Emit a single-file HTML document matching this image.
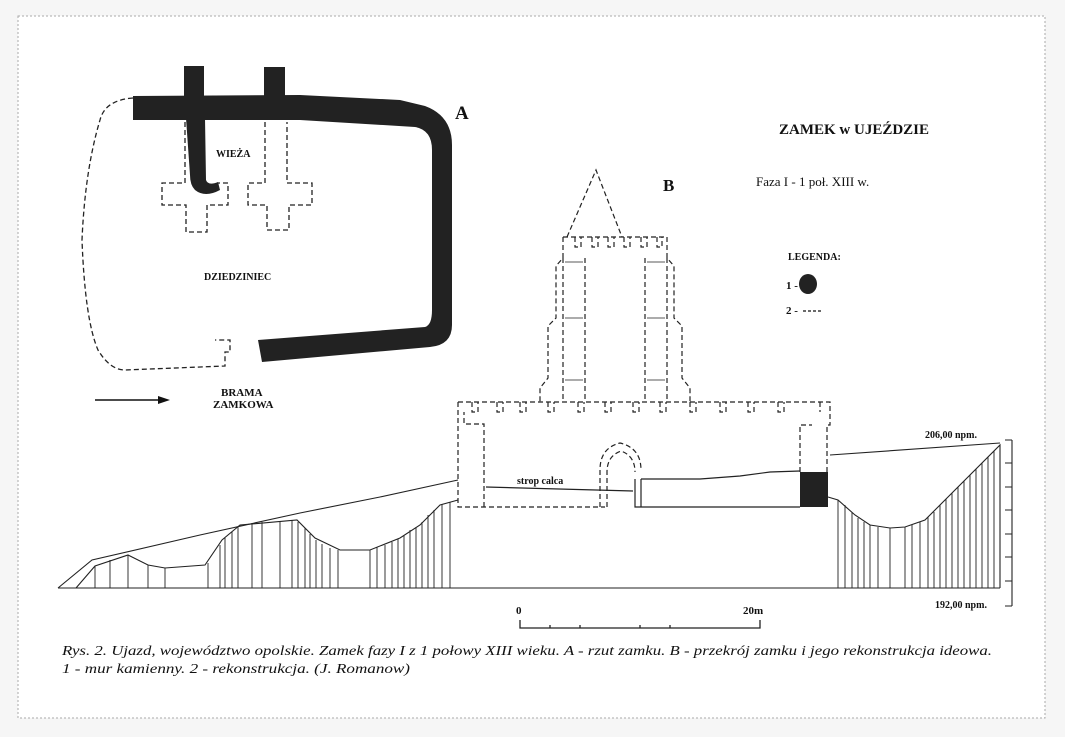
<!DOCTYPE html>
<html><head><meta charset="utf-8"><style>
html,body{margin:0;padding:0;background:#f6f6f6;}
svg{display:block}
text{font-family:"Liberation Serif",serif;fill:#111}
</style></head><body>
<svg width="1065" height="737" viewBox="0 0 1065 737" xmlns="http://www.w3.org/2000/svg">
<rect x="18" y="16" width="1027" height="702" fill="#fff" stroke="#aaa" stroke-width="1" stroke-dasharray="2,2"/>
<!-- PLAN A -->
<g fill="#222">
<path d="M133,96 L300,95 L400,100 L425,106 Q452,116 452,145 L452,325 Q452,345 430,347 L262,362 L258,340 L425,327 Q432,325 432,310 L432,150 Q432,130 415,127 L300,120 L133,120 Z"/>
<rect x="184" y="66" width="20" height="32"/>
<rect x="264" y="67" width="21" height="32"/>
<path d="M186,118 L205,118 L206,180 Q208,186 218,182 L220,190 Q205,198 195,190 Q190,185 190,175 Z"/>
</g>
<g fill="none" stroke="#222" stroke-width="1.3" stroke-dasharray="5,3">
<path d="M133,98 Q105,100 100,120 Q85,170 82,240 Q85,320 98,350 Q110,370 125,370 L225,366 L225,352 L230,352 L230,340 L215,340"/>
<path d="M185,122 L185,183 L162,183 L162,205 L186,205 L186,232 L207,232 L207,205 L228,205 L228,183 L218,183"/>
<path d="M265,122 L265,183 L248,183 L248,205 L267,205 L267,230 L289,230 L289,205 L312,205 L312,183 L287,183 L287,122"/>
</g>
<text x="455" y="119" font-size="19" font-weight="bold">A</text>
<text x="216" y="157" font-size="10" font-weight="bold">WIEŻA</text>
<text x="204" y="280" font-size="10" font-weight="bold">DZIEDZINIEC</text>
<text x="221" y="396" font-size="11" font-weight="bold">BRAMA</text>
<text x="213" y="408" font-size="11" font-weight="bold">ZAMKOWA</text>
<line x1="95" y1="400" x2="163" y2="400" stroke="#111" stroke-width="1.5"/>
<path d="M170,400 L158,396 L158,404 Z" fill="#111"/>
<!-- Titles -->
<text x="779" y="134" font-size="15" font-weight="bold">ZAMEK w UJEŹDZIE</text>
<text x="756" y="186" font-size="13">Faza I -  1 poł. XIII w.</text>
<text x="663" y="191" font-size="17" font-weight="bold">B</text>
<text x="788" y="260" font-size="10" font-weight="bold">LEGENDA:</text>
<text x="786" y="289" font-size="11" font-weight="bold">1 -</text>
<ellipse cx="808" cy="284" rx="9" ry="10" fill="#222"/>
<text x="786" y="314" font-size="11" font-weight="bold">2 -</text>
<line x1="803" y1="311" x2="823" y2="311" stroke="#111" stroke-width="1.2" stroke-dasharray="3,2"/>
<!-- Tower -->
<g fill="none" stroke="#222" stroke-width="1.2" stroke-dasharray="5,3">
<path d="M567,237 L596,170 L622,237"/>
<path d="M563,237 L667,237 L667,258 L674,266 L674,318 L682,326 L682,378 L690,388 L690,402"/>
<path d="M563,237 L563,258 L556,266 L556,318 L548,326 L548,378 L540,388 L540,402"/>
<path d="M563,258 L563,402 M585,258 L585,402 M645,258 L645,402 M667,258 L667,402"/>
<path d="M575,237 v10 h6 v-10 M592,237 v10 h6 v-10 M608,237 v10 h6 v-10 M624,237 v10 h6 v-10 M641,237 v10 h6 v-10 M657,237 v10 h5 v-10"/>
<!-- main wall -->
<path d="M458,402 L830,402 L830,425 L827,425 L827,472 M800,472 L800,425 L812,425"/>
<path d="M458,402 L458,507 L605,507 M484,507 L484,424 L464,424 L464,412"/>
<path d="M472,402 v10 h6 v-10 M497,402 v10 h6 v-10 M520,402 v10 h6 v-10 M548,402 v10 h6 v-10 M578,402 v10 h6 v-10 M605,402 v10 h6 v-10 M633,402 v10 h6 v-10 M660,402 v10 h6 v-10 M690,402 v10 h6 v-10 M720,402 v10 h6 v-10 M748,402 v10 h6 v-10 M778,402 v10 h6 v-10 M820,402 v10"/>
<path d="M600,507 L600,470 Q600,448 620,443 Q641,448 641,470"/>
<path d="M607,507 L607,472 Q607,456 621,451 Q635,456 635,472"/>
</g>
<g fill="none" stroke="#222" stroke-width="1.2">
<path d="M486,487 L633,491"/>
<path d="M641,479 L700,479 L740,476 L770,472 L800,471"/>
<path d="M635,479 L635,507 L800,507 M641,479 L641,507"/>
<rect x="612" y="268" width="0" height="0"/>
</g>
<rect x="800" y="472" width="28" height="35" fill="#222"/>
<g stroke="#222" stroke-width="0.8">
<path d="M565,262h18 M565,318h18 M565,380h18 M647,262h18 M647,318h18 M647,380h18"/>
</g>
<text x="517" y="484" font-size="10" font-weight="bold">strop calca</text>
<!-- Terrain -->
<g fill="none" stroke="#222" stroke-width="1.1">
<line x1="58" y1="588" x2="1000" y2="588"/>
<path d="M58,588 L92,560 L200,535 L300,513 L380,497 L458,480"/>
<path d="M76,588 L95,566 L128,555 L148,565 L165,568 L205,565 L222,540 L240,525 L297,520 L315,538 L340,550 L370,550 L400,538 L420,525 L440,505 L458,500"/>
<path d="M830,455 L1000,443"/>
<path d="M828,497 L838,500 L855,515 L870,525 L890,528 L905,527 L925,520 L945,500 L1000,445 L1000,588"/>
<path d="M1012,440 L1012,606 M1005,440 h7 M1005,463 h7 M1005,487 h7 M1005,510 h7 M1005,534 h7 M1005,557 h7 M1005,581 h7 M1005,606 h7"/>
</g>
<g stroke="#222" stroke-width="0.9">
<path d="M95,566V588 M110,560V588 M128,555V588 M148,565V588 M165,568V588 M208,563V588 M220,545V588 M225,538V588 M232,532V588 M238,527V588 M252,523V588 M262,522V588 M280,521V588 M292,520V588 M298,522V588 M305,528V588 M310,534V588 M316,540V588 M322,544V588 M330,548V588 M338,550V588 M370,550V588 M377,547V588 M385,545V588 M392,542V588 M398,539V588 M404,535V588 M410,530V588 M416,527V588 M422,522V588 M428,515V588 M434,510V588 M442,504V588 M450,502V588"/>
<path d="M838,500V588 M845,505V588 M852,512V588 M858,518V588 M864,522V588 M870,525V588 M878,527V588 M890,528V588 M905,527V588 M912,525V588 M920,522V588 M928,517V588 M934,512V588 M940,505V588 M946,499V588 M952,493V588 M958,487V588 M964,481V588 M970,475V588 M976,469V588 M982,463V588 M988,457V588 M994,451V588"/>
</g>
<text x="925" y="438" font-size="10" font-weight="bold">206,00 npm.</text>
<text x="935" y="608" font-size="10" font-weight="bold">192,00 npm.</text>
<!-- scale -->
<g stroke="#222" stroke-width="1.3" fill="none">
<path d="M520,620 L520,628 L760,628 L760,620 M550,628v-3 M580,628v-3 M640,628v-3 M670,628v-3"/>
</g>
<text x="516" y="614" font-size="11" font-weight="bold">0</text>
<text x="743" y="614" font-size="11" font-weight="bold">20m</text>
<!-- caption -->
<text x="62" y="655" font-size="14" font-style="italic" textLength="930" lengthAdjust="spacingAndGlyphs">Rys. 2. Ujazd, województwo opolskie. Zamek fazy I z 1 połowy XIII wieku. A - rzut zamku. B - przekrój zamku i jego rekonstrukcja ideowa.</text>
<text x="62" y="673" font-size="14" font-style="italic" textLength="348" lengthAdjust="spacingAndGlyphs">1 - mur kamienny. 2 - rekonstrukcja. (J. Romanow)</text>
</svg>
</body></html>
